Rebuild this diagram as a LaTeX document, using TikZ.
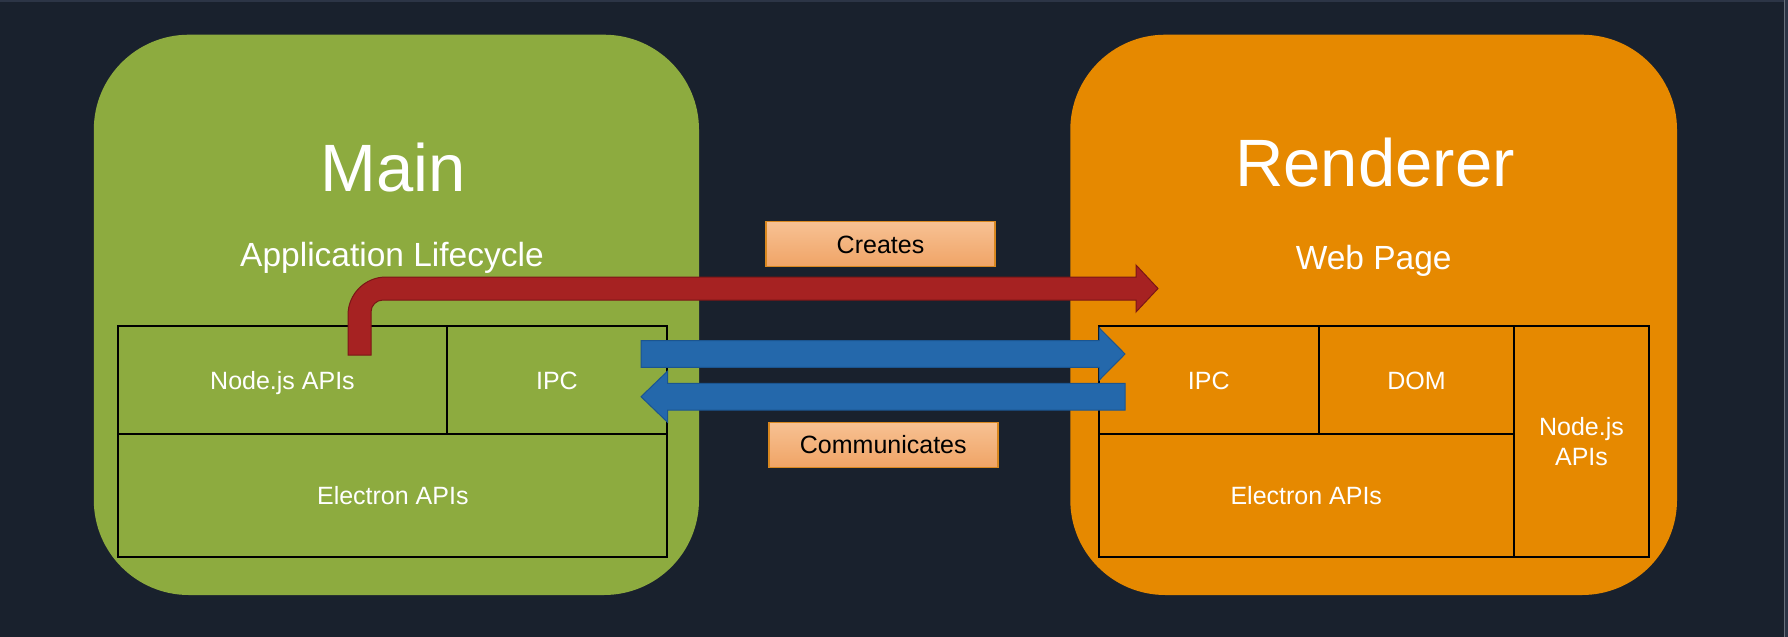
\documentclass[tikz,border=0pt]{standalone}
\usepackage{fontspec}
\setmainfont{Liberation Sans}
\usetikzlibrary{calc}
\definecolor{bg}{HTML}{19212D}
\definecolor{bgedge}{HTML}{2C3546}
\definecolor{rimline}{HTML}{6A717C}
\definecolor{maingreen}{HTML}{8DAB3F}
\definecolor{rendorange}{HTML}{E68900}
\definecolor{arrowred}{HTML}{A62222}
\definecolor{arrowredline}{HTML}{7A1616}
\definecolor{arrowblue}{HTML}{2468AB}
\definecolor{arrowblueline}{HTML}{1B5590}
\definecolor{labeltop}{HTML}{F7C193}
\definecolor{labelbot}{HTML}{F0A466}
\definecolor{labelline}{HTML}{D8871F}
\tikzset{
  procbox/.style={inner sep=0pt, outer sep=0pt, rounded corners=95pt},
  partbox/.style={draw=black, line width=2pt, inner sep=0pt, outer sep=0pt,
    text=white, font=\fontsize{25}{30}\selectfont, text height=18.2pt, text depth=0pt, align=center},
  titletext/.style={text=white, inner sep=0pt, anchor=base, font=\fontsize{67}{80}\selectfont},
  subtext/.style={text=white, inner sep=0pt, anchor=base, font=\fontsize{33.5}{40}\selectfont},
  labelbox/.style={draw=labelline, line width=1.5pt, top color=labeltop, bottom color=labelbot,
    minimum width=229pt, minimum height=45pt, inner sep=0pt, text=black,
    font=\fontsize{25}{30}\selectfont, text height=18.2pt, text depth=0pt},
  redarrow/.style={fill=arrowred, draw=arrowredline, line width=1pt, line join=miter},
  bluearrow/.style={fill=arrowblue, draw=arrowblueline, line width=1pt, line join=miter}
}
\begin{document}
\begin{tikzpicture}[x=1pt,y=-1pt]
\useasboundingbox (0,0) rectangle (1788,637);
\fill[bg] (0,0) rectangle (1788,637);
\fill[bgedge] (0,0) rectangle (1788,2);
\fill[bgedge] (1785,0) rectangle (1788,637);
\draw[rimline, line width=1.2pt] (1784.5,0) -- (1784.5,637);

% process boxes
\node[procbox, fill=maingreen, minimum width=605.2pt, minimum height=560.3pt] (main) at (396.4,314.85) {};
\node[procbox, fill=rendorange, minimum width=606.7pt, minimum height=560.3pt] (rend) at (1373.65,314.85) {};

% titles
\node[titletext] (maintitle) at (393,191.7) {Main};
\node[subtext] (mainsub) at (392,266.7) {Application Lifecycle};
\node[titletext] (rendtitle) at (1375,186.7) {Renderer};
\node[subtext] (rendsub) at (1373.7,269) {Web Page};

% main parts
\node[partbox, minimum width=328.2pt, minimum height=108.6pt] (mnode) at (282.5,380) {Node.js APIs};
\node[partbox, minimum width=220.6pt, minimum height=108.6pt] (mipc) at (556.9,380) {IPC};
\node[partbox, minimum width=548.8pt, minimum height=123pt] (melec) at (392.8,495.8) {Electron APIs};

% renderer parts
\node[partbox, minimum width=220.5pt, minimum height=108.6pt] (ripc) at (1208.75,380) {IPC};
\node[partbox, minimum width=195pt, minimum height=108.6pt] (rdom) at (1416.5,380) {DOM};
\node[partbox, minimum width=415.5pt, minimum height=123pt] (relec) at (1306.25,495.8) {Electron APIs};
\node[partbox, minimum width=135pt, minimum height=231.6pt, text height=48.2pt] (rnode) at (1581.5,441.5) {Node.js\\APIs};

% connector end points
\coordinate (createsTail) at (359.5,355);
\coordinate (createsTip) at (1158,288.5);
\coordinate (sendTail) at (641,354);
\coordinate (sendTip) at (1125,354);
\coordinate (replyTail) at (1125,396.7);
\coordinate (replyTip) at (641,396.7);

% Creates arrow (bent)
\path[redarrow] ($(createsTail)+(-11.5,0)$) -- (348,315)
  arc[start angle=180, end angle=270, radius=38]
  -- (1136,277) -- (1136,265) -- (createsTip) -- (1136,312) -- (1136,300)
  -- (383,300) arc[start angle=270, end angle=180, radius=12]
  -- ($(createsTail)+(11.5,0)$) -- cycle;

% Communicates arrows
\path[bluearrow] ($(sendTail)+(0,-13.3)$) -- (1099,340.7) -- (1099,327.7) -- (sendTip)
  -- (1099,380.3) -- (1099,367.3) -- ($(sendTail)+(0,13.3)$) -- cycle;
\path[bluearrow] ($(replyTail)+(0,-13.4)$) -- (667.7,383.3) -- (667.7,371) -- (replyTip)
  -- (667.7,422.4) -- (667.7,410) -- ($(replyTail)+(0,13.3)$) -- cycle;

% labels
\node[labelbox] (creates) at (880.5,244.2) {Creates};
\node[labelbox] (communicates) at (883.3,444.8) {Communicates};
\end{tikzpicture}
\end{document}
